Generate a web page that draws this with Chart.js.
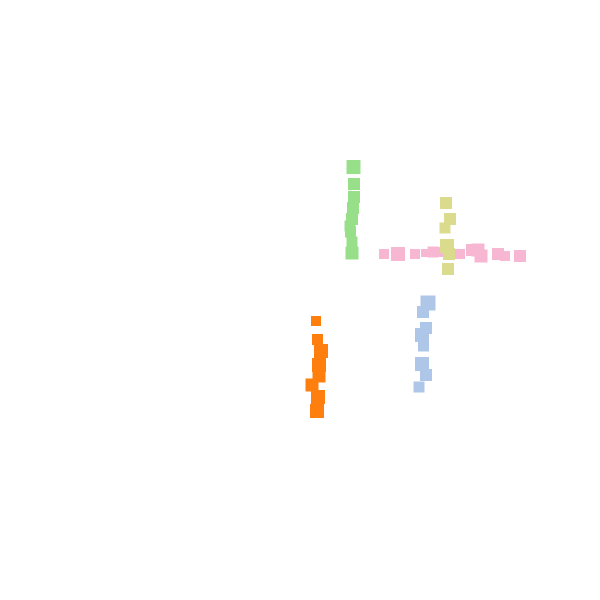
<!DOCTYPE html>
<html>
<head>
<meta charset="utf-8">
<style>
  html, body { margin: 0; padding: 0; background: #ffffff; }
  #wrap { width: 600px; height: 600px; }
</style>
<script src="https://cdn.jsdelivr.net/npm/chart.js@4/dist/chart.umd.min.js"></script>
</head>
<body>
<div id="wrap"><canvas id="c" width="600" height="600"></canvas></div>
<script>
// Series values (x, y, magnitude)
const greenX  = [0.535, 0.54, 0.54, 0.53, 0.52, 0.50, 0.505, 0.52, 0.52];
const greenY  = [1.33, 1.16, 1.03, 0.92, 0.81, 0.74, 0.68, 0.58, 0.47];
const greenM  = [14, 12, 12, 12, 12, 11, 11, 11, 13];

const orangeX = [0.16, 0.175, 0.21, 0.19, 0.19, 0.12, 0.18, 0.17];
const orangeY = [-0.21, -0.395, -0.51, -0.65, -0.76, -0.85, -0.97, -1.11];
const orangeM = [10, 11, 14, 14, 13, 13, 14, 14];

const blueX   = [1.28, 1.23, 1.26, 1.22, 1.235, 1.22, 1.26, 1.19];
const blueY   = [-0.03, -0.12, -0.28, -0.35, -0.46, -0.64, -0.75, -0.87];
const blueM   = [15, 12, 12, 14, 11, 14, 12, 11];

const oliveX  = [1.46, 1.50, 1.45, 1.47, 1.49, 1.48];
const oliveY  = [0.97, 0.81, 0.72, 0.54, 0.46, 0.31];
const oliveM  = [12, 12, 11, 14, 12, 12];

const pinkX   = [0.84, 0.98, 1.15, 1.25, 1.33, 1.42, 1.60, 1.72, 1.78, 1.81, 1.98, 2.05, 2.20];
const pinkY   = [0.46, 0.46, 0.46, 0.47, 0.48, 0.48, 0.46, 0.50, 0.50, 0.44, 0.46, 0.44, 0.44];
const pinkM   = [10, 14, 10, 8, 11, 10, 10, 12, 13, 13, 12, 10, 12];

function pts(xs, ys, ms) {
  return xs.map((x, i) => ({ x: x, y: ys[i], r: ms[i] / Math.SQRT2 }));
}

const ds = (data, color) => ({
  data: data,
  backgroundColor: color,
  borderWidth: 0,
  pointStyle: 'rect',
  hoverRadius: 0
});

new Chart(document.getElementById('c'), {
  type: 'bubble',
  data: {
    datasets: [
      ds(pts(oliveX, oliveY, oliveM), '#dbdb8d'),
      ds(pts(pinkX, pinkY, pinkM), '#f7b6d2'),
      ds(pts(greenX, greenY, greenM), '#98df8a'),
      ds(pts(orangeX, orangeY, orangeM), '#ff7f0e'),
      ds(pts(blueX, blueY, blueM), '#aec7e8')
    ]
  },
  options: {
    responsive: false,
    animation: false,
    layout: { padding: 0, autoPadding: false },
    plugins: { legend: { display: false }, tooltip: { enabled: false } },
    events: [],
    scales: {
      x: { type: 'linear', min: -3, max: 3, display: false },
      y: { type: 'linear', min: -3, max: 3, display: false }
    }
  }
});
</script>
</body>
</html>
